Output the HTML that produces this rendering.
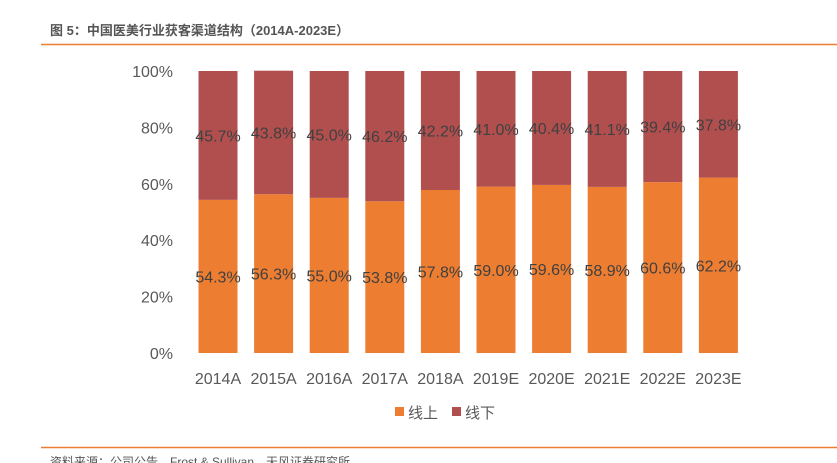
<!DOCTYPE html>
<html><head><meta charset="utf-8"><style>
body{margin:0;background:#fff;width:837px;height:463px;overflow:hidden;font-family:"Liberation Sans","Noto Sans CJK SC",sans-serif}
</style></head><body>
<svg width="837" height="463" style="position:absolute;left:0;top:0">
<text x="50" y="35" font-size="13" font-weight="bold" fill="#555" font-family="Liberation Sans,Noto Sans CJK SC,sans-serif">图 5：中国医美行业获客渠道结构（2014A-2023E）</text>
<line x1="41" y1="44.5" x2="837" y2="44.5" stroke="#ED7D31" stroke-width="1.5"/>
<line x1="41" y1="447.5" x2="837" y2="447.5" stroke="#ED7D31" stroke-width="1.5"/>
<text x="50" y="466" font-size="12" fill="#555" font-family="Liberation Sans,Noto Sans CJK SC,sans-serif">资料来源：公司公告，Frost &amp; Sullivan，天风证券研究所</text>
<g id="plot"></g>
<g>
<rect x="395" y="407" width="9" height="9" fill="#ED7D31"/>
<text x="408" y="418" font-size="15" fill="#595959">线上</text>
<rect x="452" y="407" width="9" height="9" fill="#B14F4F"/>
<text x="465" y="418" font-size="15" fill="#595959">线下</text>
</g>
</svg>
<script>
const categories=["2014A","2015A","2016A","2017A","2018A","2019E","2020E","2021E","2022E","2023E"];
const online=[54.3,56.3,55.0,53.8,57.8,59.0,59.6,58.9,60.6,62.2];
const offline=[45.7,43.8,45.0,46.2,42.2,41.0,40.4,41.1,39.4,37.8];
const yTicks=[0,20,40,60,80,100];
const NS="http://www.w3.org/2000/svg";
const g=document.getElementById('plot');
const y0=353,y1=71;
const y=v=>y0-(v/100)*(y0-y1);
const step=55.6,x0=198.5,bw=39;
const x=i=>x0+i*step;
function mk(t,a){const e=document.createElementNS(NS,t);for(const k in a)e.setAttribute(k,a[k]);g.appendChild(e);return e;}
yTicks.forEach(t=>{
  const e=mk('text',{x:173,y:y(t)+6,'font-size':16,fill:'#595959','text-anchor':'end'});
  e.textContent=t+'%';
  
  
});
categories.forEach((c,i)=>{
  const tot=online[i]+offline[i];
  const r1=mk('rect',{x:x(i),y:y(online[i]),width:bw,height:y0-y(online[i]),fill:'#ED7D31'});
  
  
  const r2=mk('rect',{x:x(i),y:y(tot),width:bw,height:y(online[i])-y(tot),fill:'#B14F4F'});
  
  
  const l1=mk('text',{x:x(i)+bw/2,y:(y0+y(online[i]))/2+6,'font-size':16,fill:'#404040','text-anchor':'middle'});
  l1.textContent=online[i].toFixed(1)+'%';
  
  
  const l2=mk('text',{x:x(i)+bw/2,y:(y(online[i])+y(tot))/2+6,'font-size':16,fill:'#404040','text-anchor':'middle'});
  l2.textContent=offline[i].toFixed(1)+'%';
  
  
  const xl=mk('text',{x:x(i)+bw/2,y:384,'font-size':16,fill:'#595959','text-anchor':'middle'});
  xl.textContent=c;
  
  
});
</script>
</body></html>
